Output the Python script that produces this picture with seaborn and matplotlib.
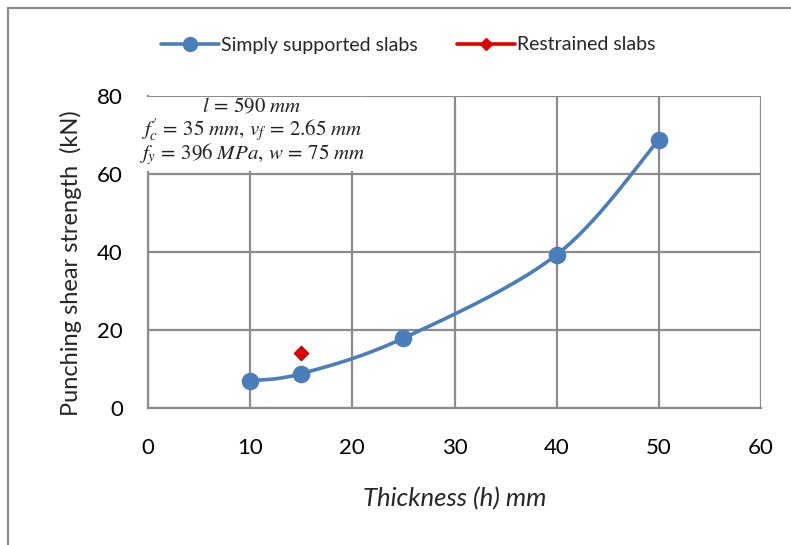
import numpy as np
import matplotlib
matplotlib.use("Agg")
import matplotlib.pyplot as plt
from matplotlib.patches import Rectangle
import seaborn as sns

# Measured punching shear strength vs slab thickness
thickness_simple = [10, 15, 25, 40, 50]
strength_simple = [7.0, 8.8, 17.9, 39.3, 68.8]
thickness_restrained = [15]
strength_restrained = [14.0]

x_ticks = [0, 10, 20, 30, 40, 50, 60]
y_ticks = [0, 20, 40, 60, 80]


def smooth_curve(xs, ys, n=40):
    """Bezier smoothing through the points (spreadsheet-style smoothed line)."""
    pts = np.column_stack([xs, ys]).astype(float)
    ext = np.vstack([pts[0], pts, pts[-1]])
    out = []
    for i in range(1, len(ext) - 2):
        p0, p1, p2, p3 = ext[i - 1], ext[i], ext[i + 1], ext[i + 2]
        c1 = p1 + (p2 - p0) / 6.0
        c2 = p2 - (p3 - p1) / 6.0
        t = np.linspace(0, 1, n)[:, None]
        seg = ((1 - t) ** 3) * p1 + 3 * ((1 - t) ** 2) * t * c1 + 3 * (1 - t) * t ** 2 * c2 + t ** 3 * p2
        out.append(seg if i == 1 else seg[1:])
    seg = np.vstack(out)
    return seg[:, 0], seg[:, 1]


sns.set_theme(style="white")
plt.rcParams["font.family"] = ["Lato", "DejaVu Sans"]
plt.rcParams["mathtext.fontset"] = "stix"

fig = plt.figure(figsize=(7.91, 5.45), dpi=100)
ax = fig.add_axes([148 / 791, 1 - 408 / 545, (761 - 148) / 791, (408 - 96) / 545])

blue = "#4a7ebb"
red = "#e00000"

cx, cy = smooth_curve(thickness_simple, strength_simple)
sns.lineplot(x=cx, y=cy, ax=ax, color=blue, linewidth=2.6, sort=False, zorder=3)
sns.scatterplot(x=thickness_simple, y=strength_simple, ax=ax, color=blue, s=160,
                edgecolor=blue, linewidth=0, zorder=4)
sns.scatterplot(x=thickness_restrained, y=strength_restrained, ax=ax, color=red, marker="D",
                s=55, edgecolor="#c00000", linewidth=0.8, zorder=4)

ax.set_xlim(0, 60)
ax.set_ylim(0, 80)
ax.set_xticks(x_ticks)
ax.set_yticks(y_ticks)
ax.tick_params(axis="both", labelsize=16, length=5.5, width=1.2, direction="out",
               colors="#888888", labelcolor="black")
ax.tick_params(axis="x", pad=16)
ax.tick_params(axis="y", pad=12.5)
ax.grid(True, color="#8c8c8c", linewidth=1.6)
ax.set_axisbelow(True)
for side in ["top", "right"]:
    ax.spines[side].set_visible(False)
for side in ["left", "bottom"]:
    ax.spines[side].set_color("#8c8c8c")
    ax.spines[side].set_linewidth(1.6)

ax.set_xlabel("Thickness (h) mm", fontsize=18.5, fontstyle="italic")
ax.set_ylabel("Punching shear strength  (kN)", fontsize=17)
ax.xaxis.set_label_coords(0.5, (408 - 487) / 312)
ax.yaxis.set_label_coords((82 - 148) / 613, (408 - 263) / 312)

# Legend above the plot area
h1, = ax.plot([], [], color=blue, linewidth=2.6, marker="o", markersize=10)
h2, = ax.plot([], [], color=red, linewidth=2.6, marker="D", markersize=6)
fig.legend([h1, h2], ["Simply supported slabs", "Restrained slabs"],
           loc="center", bbox_to_anchor=(408 / 791, 1 - 45 / 545), ncol=2, frameon=False,
           fontsize=14, handlelength=3.0, columnspacing=2.0, handletextpad=0.1)

# Parameter box
fig.add_artist(Rectangle((140 / 791, 1 - 171 / 545), 225 / 791, 74 / 545,
                         transform=fig.transFigure, facecolor="white", edgecolor="none", zorder=5))
params = [r"$l\,=\,590\ mm$",
          r"$f_c^{\prime}\,=\,35\ mm,\,v_f\,=\,2.65\ mm$",
          r"$f_y\,=\,396\ MPa,\,w\,=\,75\ mm$"]
for i, s in enumerate(params):
    fig.text(252 / 791, 1 - (106 + 24 * i) / 545, s, ha="center", va="center",
             fontsize=15, color="#222222", zorder=6)

# Chart frame
fig.add_artist(Rectangle((8 / 791, -0.05), 1.2, 1 - 8 / 545 + 0.05, transform=fig.transFigure,
                         facecolor="none", edgecolor="#8c8c8c", linewidth=1.6))

fig.savefig("out.png", dpi=100)
